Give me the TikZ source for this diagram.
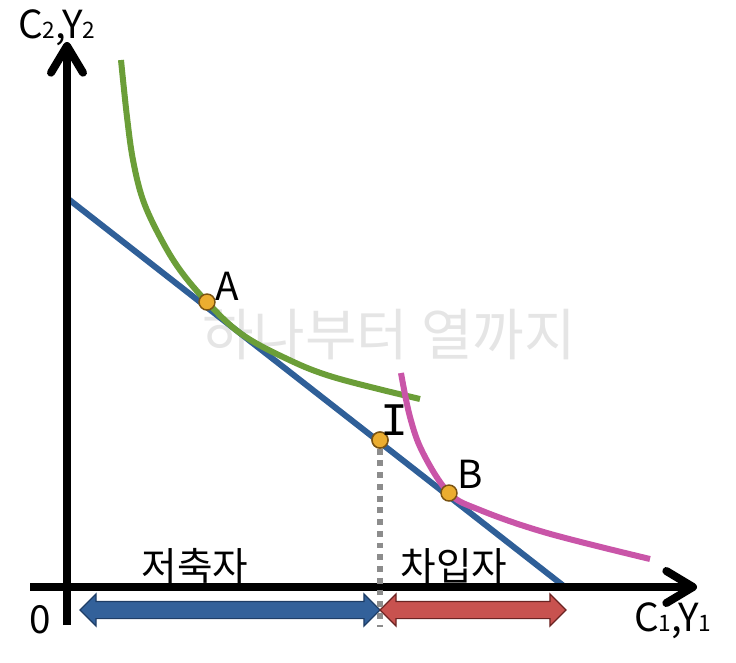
\documentclass[tikz,border=0pt]{standalone}
\usepackage{fontspec}
\setmainfont{Noto Sans CJK KR}
\newfontfamily\barfont{Liberation Mono}
\usetikzlibrary{arrows.meta,shapes.arrows}
\definecolor{lineblue}{HTML}{2F5F98}
\definecolor{icgreen}{HTML}{6B9E38}
\definecolor{icpink}{HTML}{C955A8}
\definecolor{dotorange}{HTML}{EBAD30}
\definecolor{dotedge}{HTML}{7A5312}
\definecolor{saverfill}{HTML}{33619A}
\definecolor{saveredge}{HTML}{1E3D66}
\definecolor{borrowfill}{HTML}{C8524F}
\definecolor{borrowedge}{HTML}{6A2322}
\newcommand{\sub}[1]{{\fontsize{17}{17}\selectfont #1}}

\begin{document}
\begin{tikzpicture}[
  x=0.75pt,y=-0.75pt,
  axis/.style={line width=6pt,-{Straight Barb[length=20pt,width=24pt,line cap=round,line join=round]}},
  budget/.style={lineblue,line width=4.5pt},
  icurve/.style={line width=4.5pt},
  guide/.style={gray!90,line width=4.5pt,dash pattern=on 4.4pt off 4.4pt},
  point/.style={circle,fill=dotorange,draw=dotedge,line width=1.1pt,minimum size=12pt,inner sep=0pt},
  span/.style={double arrow,double arrow head extend=5.6pt,minimum width=23pt,
    inner xsep=0pt,inner ysep=6pt,text height=0pt,text depth=0pt,line width=0.9pt},
  lbl/.style={font=\fontsize{29}{29}\selectfont,inner sep=0pt},
  every node/.style={font=\fontsize{29}{29}\selectfont}
]
  \useasboundingbox (0,0) rectangle (736,662);
  % watermark
  \node[gray!20,font=\fontsize{42}{42}\selectfont,inner sep=0pt] (mark) at (389,335) {하나부터 열까지};
  % budget line
  \coordinate (top) at (67,198);
  \coordinate (bot) at (565,587);
  \draw[budget] (top) -- (bot);
  % indifference curves
  \draw[icurve,icgreen] plot[smooth,tension=0.6] coordinates
    {(121,60) (127,117) (133,160) (143,200) (160,237) (180,270) (207,302)
     (240,333) (283,357) (333,377) (420,399)};
  \draw[icurve,icpink] plot[smooth,tension=0.6] coordinates
    {(401,373) (410,417) (423,453) (449,493) (480,510) (547,533) (650,559)};
  % axes
  \coordinate (o) at (67,625);
  \coordinate (ytip) at (67,42);
  \coordinate (xl) at (30,587);
  \coordinate (xtip) at (697,587);
  \draw[axis] (o) -- (ytip);
  \draw[axis] (xl) -- (xtip);
  % savers / borrowers
  \node[span,fill=saverfill,draw=saveredge,minimum height=225pt] (saver) at (230,610) {};
  \node[span,fill=borrowfill,draw=borrowedge,minimum height=139.5pt] (borrow) at (473,610) {};
  % points
  \node[point] (A) at (207,302) {};
  \node[point] (I) at (380,440) {};
  \node[point] (B) at (449,493) {};
  \coordinate (Ifoot) at (380,627);
  \draw[guide] (I) -- (Ifoot);
  \node[point] at (I) {};
  % labels
  \node[lbl,anchor=base west] (la) at (215,300) {A};
  \node[lbl,anchor=base,font=\barfont\fontsize{35}{35}\selectfont] (li) at (394,435) {I};
  \node[lbl,anchor=base west] (lb) at (457,488) {B};
  \node[lbl,anchor=center] (lsave) at (195,566) {저축자};
  \node[lbl,anchor=center] (lborrow) at (454,566) {차입자};
  \node[lbl,anchor=base] (lo) at (40,633) {0};
  \node[lbl,anchor=base west] (lx) at (634,631) {C\sub{1},Y\sub{1}};
  \node[lbl,anchor=base west] (ly) at (18,38) {C\sub{2},Y\sub{2}};
\end{tikzpicture}
\end{document}
